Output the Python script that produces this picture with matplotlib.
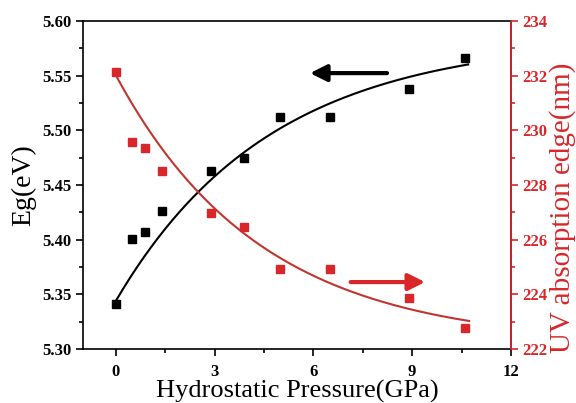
import matplotlib.pyplot as plt
import numpy as np
from matplotlib.ticker import MultipleLocator, FormatStrFormatter

pressure = [0.0, 0.5, 0.9, 1.4, 2.9, 3.9, 5.0, 6.5, 8.9, 10.6]
eg = [5.341, 5.401, 5.407, 5.426, 5.463, 5.475, 5.512, 5.512, 5.538, 5.566]
uv_edge = [232.13, 229.57, 229.35, 228.5, 226.98, 226.46, 224.93, 224.93, 223.87, 222.77]

# points read along the fitted curves of the reference
curve_x = [0.0, 1.03, 1.94, 2.47, 3.55, 4.36, 5.27, 6.79, 8.3, 9.82, 10.7]
eg_curve = [5.344, 5.391, 5.427, 5.444, 5.470, 5.488, 5.509, 5.526, 5.5445, 5.555, 5.561]
uv_curve_x = [0.0, 0.52, 1.03, 1.69, 2.47, 3.55, 4.36, 5.27, 6.79, 8.3, 9.82, 10.73]
uv_curve = [232.03, 230.85, 229.75, 228.7, 227.76, 226.72, 225.99, 225.14, 224.28, 223.61, 223.18, 223.0]

RED = "#d8262a"
FIT_RED = "#c0362f"


def exp_fit(x, y):
    """Smooth y = a + b*exp(-x/t), grid search over t."""
    x = np.asarray(x, dtype=float)
    y = np.asarray(y, dtype=float)
    w = np.ones_like(x)
    w[0] = 4.0  # the reference curve starts on the first point
    best = None
    for t in np.linspace(0.5, 30, 600):
        A = np.column_stack([np.ones_like(x), np.exp(-x / t)])
        coef, *_ = np.linalg.lstsq(A * w[:, None], y * w, rcond=None)
        err = np.sum(((A @ coef - y) * w) ** 2)
        if best is None or err < best[0]:
            best = (err, coef, t)
    _, (a, b), t = best
    return lambda xx: a + b * np.exp(-xx / t)


plt.rcParams["font.family"] = ["Liberation Serif", "DejaVu Serif"]

fig = plt.figure(figsize=(5.76, 4.03), dpi=100)
ax = fig.add_axes([0.144, 0.134, 0.743, 0.814])
ax2 = ax.twinx()

eg_fit = exp_fit(curve_x, eg_curve)
uv_fit = exp_fit(uv_curve_x, uv_curve)
xs = np.linspace(curve_x[0], curve_x[-1], 200)
xs2 = np.linspace(uv_curve_x[0], uv_curve_x[-1], 200)

ax.plot(xs, eg_fit(xs), color="black", lw=1.5, zorder=2)
ax.plot(pressure, eg, "s", color="black", ms=6, zorder=3)

ax2.plot(xs2, uv_fit(xs2), color=FIT_RED, lw=1.5, zorder=2)
ax2.plot(pressure, uv_edge, "s", color=RED, ms=6, zorder=3)

ax.set_xlim(-1, 12)
ax.set_ylim(5.30, 5.60)
ax2.set_ylim(222, 234)

ax.xaxis.set_major_locator(MultipleLocator(3))
ax.xaxis.set_minor_locator(MultipleLocator(1.5))
ax.yaxis.set_major_locator(MultipleLocator(0.05))
ax.yaxis.set_minor_locator(MultipleLocator(0.025))
ax.yaxis.set_major_formatter(FormatStrFormatter("%.2f"))
ax2.yaxis.set_major_locator(MultipleLocator(2))
ax2.yaxis.set_minor_locator(MultipleLocator(1))

ax.tick_params(axis="both", which="major", direction="out", length=5, width=1.2,
               labelsize=12)
ax.tick_params(axis="both", which="minor", direction="out", length=3, width=1.2)
ax.tick_params(axis="x", pad=6)
ax2.tick_params(axis="y", which="major", direction="out", length=5, width=1.2,
                colors=RED, labelsize=12)
ax2.tick_params(axis="y", which="minor", direction="out", length=3, width=1.2,
                colors=RED)

for lab in ax.get_xticklabels() + ax.get_yticklabels() + ax2.get_yticklabels():
    lab.set_fontweight("bold")

for sp in ax.spines.values():
    sp.set_linewidth(1.2)
ax2.spines["right"].set_color(RED)
ax2.spines["right"].set_linewidth(1.2)
ax2.spines["left"].set_visible(False)
ax2.spines["top"].set_visible(False)
ax2.spines["bottom"].set_visible(False)

ax.set_xlabel("Hydrostatic Pressure(GPa)", fontsize=19, labelpad=0)
ax.set_ylabel("Eg(eV)", fontsize=20, labelpad=4)
ax2.set_ylabel("UV absorption edge(nm)", fontsize=21, color=RED)
ax2.yaxis.set_label_coords(1.089, 0.43)

# direction arrows
ax.annotate("", xy=(0.524, 0.841), xytext=(0.717, 0.841), xycoords="axes fraction",
            arrowprops=dict(arrowstyle="-|>,head_length=1.0,head_width=0.5",
                            color="black", lw=3))
ax.annotate("", xy=(0.806, 0.204), xytext=(0.619, 0.204), xycoords="axes fraction",
            arrowprops=dict(arrowstyle="-|>,head_length=1.0,head_width=0.5",
                            color=RED, lw=3))

fig.savefig("out.png", dpi=100)
